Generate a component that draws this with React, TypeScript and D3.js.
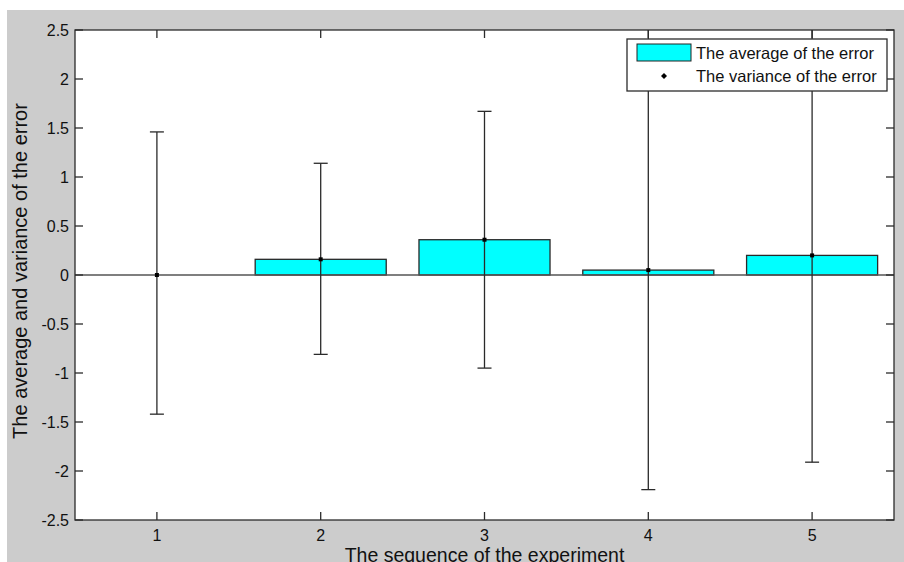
import React from "react";
import * as d3 from "d3";

const experiments = [1, 2, 3, 4, 5];
const averages = [0, 0.16, 0.36, 0.05, 0.2];
const lowerBounds = [-1.42, -0.81, -0.95, -2.19, -1.91];
const upperBounds = [1.46, 1.14, 1.67, 2.8, 2.8];
const yTicks = [-2.5, -2, -1.5, -1, -0.5, 0, 0.5, 1, 1.5, 2, 2.5];

const W = 904;
const H = 562;
const margin = { top: 30, right: 10, bottom: 42, left: 75 };
const font = "'Liberation Sans', Arial, Helvetica, sans-serif";
const axisColor = "#2b2b2b";

const App = () => {
  const x = d3
    .scaleLinear()
    .domain([0.5, 5.5])
    .range([margin.left, W - margin.right]);
  const y = d3
    .scaleLinear()
    .domain([-2.5, 2.5])
    .range([H - margin.bottom, margin.top]);

  const x0 = x(0.5);
  const x1 = x(5.5);
  const yTop = y(2.5);
  const yBot = y(-2.5);
  const barW = x(1.8) - x(1);
  const cap = 7;
  const tick = 8;

  return (
    <svg
      width={W}
      height={H}
      style={{ position: "absolute", left: 0, top: 0 }}
      fontFamily={font}
    >
      <rect x={0} y={0} width={W} height={H} fill="#fff" />
      <rect x={7} y={10} width={W - 7} height={H - 10} fill="#cccccc" />
      <defs>
        <clipPath id="plotClip">
          <rect x={x0} y={yTop} width={x1 - x0} height={yBot - yTop} />
        </clipPath>
      </defs>
      <rect x={x0} y={yTop} width={x1 - x0} height={yBot - yTop} fill="#fff" />

      {/* bars */}
      {experiments.map((e, i) => (
        <rect
          key={"b" + e}
          x={x(e) - barW / 2}
          y={y(Math.max(0, averages[i]))}
          width={barW}
          height={Math.abs(y(averages[i]) - y(0))}
          fill="#00ffff"
          stroke="#2a2a2a"
          strokeWidth={1.3}
        />
      ))}
      <line x1={x0} x2={x1} y1={y(0)} y2={y(0)} stroke="#555" strokeWidth={1.3} />

      {/* error bars */}
      <g clipPath="url(#plotClip)" stroke="#2a2a2a" strokeWidth={1.3}>
        {experiments.map((e, i) => (
          <g key={"e" + e}>
            <line x1={x(e)} x2={x(e)} y1={y(lowerBounds[i])} y2={y(upperBounds[i])} />
            <line x1={x(e) - cap} x2={x(e) + cap} y1={y(lowerBounds[i])} y2={y(lowerBounds[i])} />
            <line x1={x(e) - cap} x2={x(e) + cap} y1={y(upperBounds[i])} y2={y(upperBounds[i])} />
          </g>
        ))}
      </g>
      {experiments.map((e, i) => (
        <rect key={"p" + e} x={x(e) - 2} y={y(averages[i]) - 2} width={4} height={4} fill="#000" />
      ))}

      {/* axes box and ticks */}
      <g stroke={axisColor} strokeWidth={1.3}>
        <rect x={x0} y={yTop} width={x1 - x0} height={yBot - yTop} fill="none" />
        {yTicks.map((t) => (
          <g key={"yt" + t}>
            <line x1={x0} x2={x0 + tick} y1={y(t)} y2={y(t)} />
            <line x1={x1} x2={x1 - tick} y1={y(t)} y2={y(t)} />
          </g>
        ))}
        {experiments.map((e) => (
          <g key={"xt" + e}>
            <line x1={x(e)} x2={x(e)} y1={yBot} y2={yBot - tick} />
            <line x1={x(e)} x2={x(e)} y1={yTop} y2={yTop + tick} />
          </g>
        ))}
      </g>
      {yTicks.map((t) => (
        <text
          key={"yl" + t}
          x={x0 - 6}
          y={y(t)}
          dy="0.36em"
          textAnchor="end"
          fontSize={16}
          fill="#111"
        >
          {t}
        </text>
      ))}
      {experiments.map((e) => (
        <text
          key={"xl" + e}
          x={x(e)}
          y={yBot + 21}
          textAnchor="middle"
          fontSize={16}
          fill="#111"
        >
          {e}
        </text>
      ))}

      {/* axis titles */}
      <text
        x={(x0 + x1) / 2}
        y={562}
        textAnchor="middle"
        fontSize={19.5}
        fill="#111"
      >
        The sequence of the experiment
      </text>
      <text
        transform={`translate(27,${(yTop + yBot) / 2 - 4}) rotate(-90)`}
        textAnchor="middle"
        fontSize={20}
        fill="#111"
      >
        The average and variance of the error
      </text>

      {/* legend */}
      <g>
        <rect x={627} y={39} width={260} height={52} fill="#fff" stroke={axisColor} strokeWidth={1.3} />
        <rect x={637} y={44} width={54} height={17} fill="#00ffff" stroke="#222" strokeWidth={1} />
        <text x={696} y={59} fontSize={16.5} fill="#111">
          The average of the error
        </text>
        <path d="M664,73 L667,76 L664,79 L661,76 Z" fill="#000" />
        <text x={696} y={82} fontSize={16.5} fill="#111">
          The variance of the error
        </text>
      </g>
    </svg>
  );
};

export default App;
